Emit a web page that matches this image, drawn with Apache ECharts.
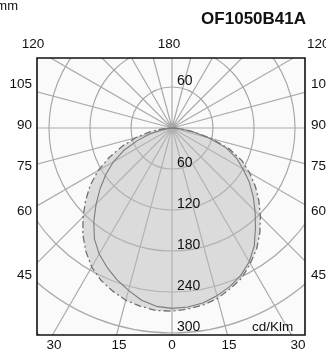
<!DOCTYPE html>
<html>
<head>
<meta charset="utf-8">
<script src="https://cdn.jsdelivr.net/npm/echarts@6/dist/echarts.min.js"></script>
<style>
html,body{margin:0;padding:0;background:#fff;}
#chart{width:326px;height:350px;}
</style>
</head>
<body>
<div id="chart"></div>
<script>
// ---- data ----
const gammaAngles = [0,5,10,15,20,25,30,35,40,45,50,55,60,65,70,75,80,85,90];
// solid curve (C0 side on the right, C180 side on the left), cd/klm
const solidRight = [264,263,260,254,247,238,226,210,190,172,155,138,120,104,84,56,30,11,0];
const solidLeft  = [263,262,256,246,236,225,213,198,178,157,137,118,99,78,54,33,16,6,0];
// dash-dot curve (C90 side on the right, C270 side on the left)
const dashRight  = [268,266,263,258,250,242,229,216,200,183,166,149,131,113,89,59,32,12,0];
const dashLeft   = [269,268,265,261,254,246,235,220,203,184,165,146,125,101,77,55,34,14,0];
const ringValues = [60,120,180,240,300];
const topLabels = ['120','180','120'];
const sideLabels = ['105','90','75','60','45'];
const bottomLabels = ['30','15','0','15','30'];
const title = 'OF1050B41A';
const unitLabel = 'cd/Klm';
const cornerText = 'mm';

// ---- layout ----
const cx = 172, cy = 128, R = 246, rMax = 360;
const frame = {x: 37, y: 58, w: 268, h: 277};
const FONT = '"Liberation Sans", Arial, Helvetica, sans-serif';
const gridColor = '#a9a9a9';

function buildCurve(right, left) {
  const pts = [];
  for (let i = gammaAngles.length - 1; i >= 0; i--) pts.push([right[i], -gammaAngles[i]]);
  for (let i = 1; i < gammaAngles.length; i++) pts.push([left[i], gammaAngles[i]]);
  return pts;
}

const chart = echarts.init(document.getElementById('chart'), null, {renderer: 'canvas'});
chart.setOption({
  animation: false,
  backgroundColor: '#fafafa',
  polar: {center: [cx, cy], radius: R},
  angleAxis: {
    type: 'value', min: -180, max: 180, interval: 15, startAngle: 90, clockwise: true,
    axisLine: {show: false}, axisTick: {show: false}, axisLabel: {show: false},
    splitLine: {show: true, lineStyle: {color: gridColor, width: 1.2}}
  },
  radiusAxis: {
    type: 'value', min: 0, max: rMax, interval: 60,
    axisLine: {show: false}, axisTick: {show: false}, axisLabel: {show: false},
    splitLine: {show: true, lineStyle: {color: gridColor, width: 1.2}}
  },
  series: [
    {
      type: 'line', coordinateSystem: 'polar', data: buildCurve(dashRight, dashLeft),
      showSymbol: false, symbol: 'none', smooth: false,
      lineStyle: {color: '#707070', width: 1.3, type: [7, 3, 2, 3]},
      areaStyle: {color: 'rgba(188,188,188,0.72)', origin: 'start'},
      z: 3
    },
    {
      type: 'line', coordinateSystem: 'polar', data: buildCurve(solidRight, solidLeft),
      showSymbol: false, symbol: 'none', smooth: false,
      lineStyle: {color: '#7c7c7c', width: 1.1},
      z: 4
    }
  ]
});

// ---- overlays: mask outside the frame, frame, texts ----
const g = [];
const white = {fill: '#ffffff'};
g.push({type: 'rect', shape: {x: 0, y: 0, width: 326, height: frame.y}, style: white, z: 100, silent: true});
g.push({type: 'rect', shape: {x: 0, y: frame.y + frame.h, width: 326, height: 350 - frame.y - frame.h}, style: white, z: 100, silent: true});
g.push({type: 'rect', shape: {x: 0, y: 0, width: frame.x, height: 350}, style: white, z: 100, silent: true});
g.push({type: 'rect', shape: {x: frame.x + frame.w, y: 0, width: 326 - frame.x - frame.w, height: 350}, style: white, z: 100, silent: true});
g.push({type: 'rect', shape: {x: frame.x, y: frame.y, width: frame.w, height: frame.h},
  style: {fill: 'none', stroke: '#111', lineWidth: 1.6}, z: 101, silent: true});

function txt(text, x, y, align, size, weight, vAlign) {
  g.push({type: 'text', x: x, y: y, z: 102, silent: true,
    style: {text: text, fill: '#111', font: (weight || 'normal') + ' ' + size + 'px ' + FONT,
      align: align, verticalAlign: vAlign || 'middle'}});
}

txt(title, 306, 19, 'right', 17, 'bold');
txt(cornerText, 18, 6, 'right', 13);
txt(unitLabel, 252, 327, 'left', 13.5);

// top labels
const topPos = [[33, 44, 'center'], [169, 44, 'center'], [307, 44, 'left']];
topLabels.forEach((t, i) => txt(t, topPos[i][0], topPos[i][1], topPos[i][2], 13.5));
// side labels
const sideY = [84, 125, 166, 211, 275];
sideLabels.forEach((t, i) => {
  txt(t, 32, sideY[i], 'right', 13.5);
  txt(t, 311, sideY[i], 'left', 13.5);
});
// bottom labels
const bottomX = [54, 119, 172, 229, 298];
bottomLabels.forEach((t, i) => txt(t, bottomX[i], 345, 'center', 13.5));

// ring value labels, positioned through the polar scale
ringValues.forEach(v => {
  [0, 180].forEach(a => {
    const p = chart.convertToPixel({seriesIndex: 0}, [v, a]);
    if (!p) return;
    const y = p[1] + 1;
    if (y - 15 < frame.y || y > frame.y + frame.h) return;
    txt(String(v), p[0] + 5, y, 'left', 14, 'normal', 'bottom');
  });
});

chart.setOption({graphic: g});
</script>
</body>
</html>
